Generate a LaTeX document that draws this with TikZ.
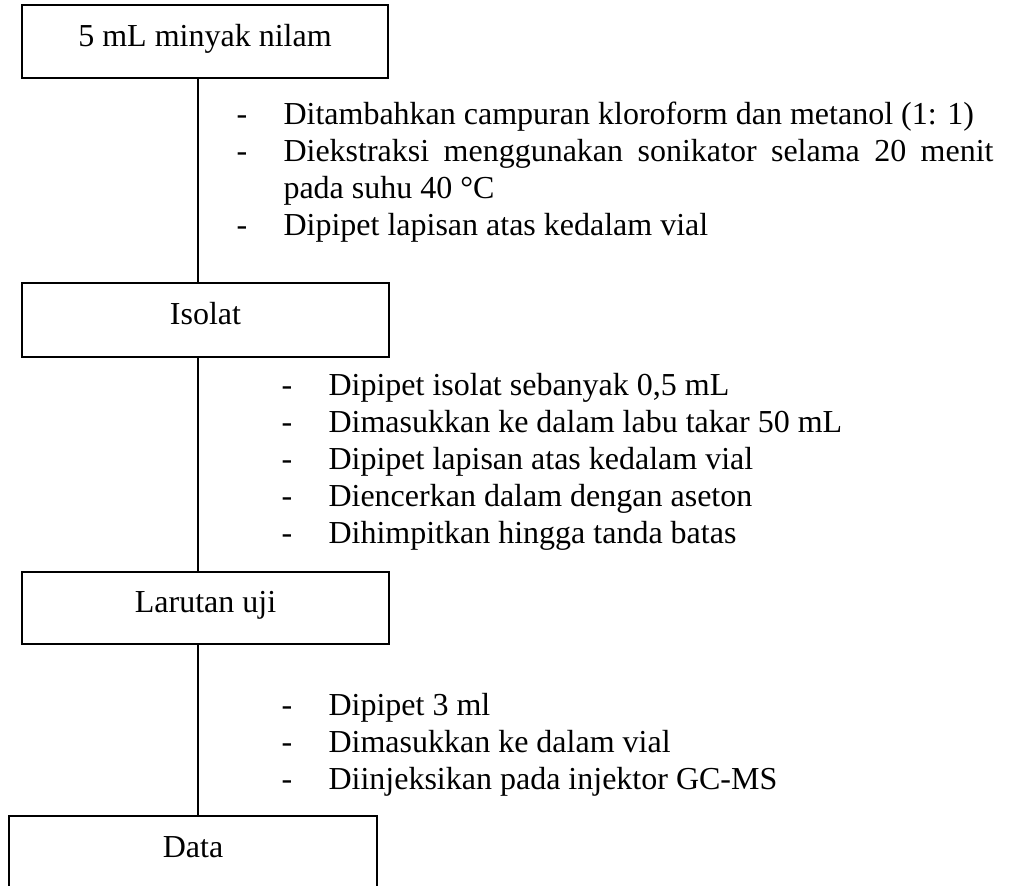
\documentclass[tikz,border=0pt]{standalone}
\usepackage{fontspec}
\setmainfont{Liberation Serif}
\usepackage{tikz}
\usetikzlibrary{positioning}
\newcommand\langkah[1]{\hangindent=17.625pt\hangafter=1\makebox[17.625pt][l]{-}#1\par}
\newcommand\daftar[1]{\parbox[t]{283.875pt}{\fontsize{12}{13.875}\selectfont\parskip=0pt\tolerance=9999 #1}}
\tikzset{
  box/.style={draw,line width=0.75pt,inner sep=0pt,font=\fontsize{12}{14}\selectfont,text height=8.25pt,text depth=4.875pt},
  garis/.style={line width=0.75pt},
  ket/.style={anchor=base west,inner sep=0pt}
}
\begin{document}
\begin{tikzpicture}[x=0.375pt,y=-0.375pt]
\useasboundingbox (0,0) rectangle (1012,885);
\clip (0,0) rectangle (1012,885);
\coordinate (tulang) at (198,0);

\node[box, minimum width=137.25pt, minimum height=27.375pt] (minyak) at (205,41.5) {5 mL minyak nilam};
\node[box, minimum width=137.625pt, minimum height=27.75pt] (isolat) at (205.5,320) {Isolat};
\node[box, minimum width=137.625pt, minimum height=27pt] (larutan) at (205.5,608) {Larutan uji};
\node[box, minimum width=138pt, minimum height=27.375pt] (data) at (193,852.5) {Data};

\draw[garis] (minyak.south -| tulang) -- (isolat.north -| tulang);
\draw[garis] (isolat.south -| tulang) -- (larutan.north -| tulang);
\draw[garis] (larutan.south -| tulang) -- (data.north -| tulang);

\node[ket] (ket1) at (236,124) {\daftar{%
  \langkah{Ditambahkan campuran kloroform dan metanol (1: 1)}
  \langkah{Diekstraksi menggunakan sonikator selama 20 menit pada suhu 40 °C}
  \langkah{Dipipet lapisan atas kedalam vial}}};
\node[ket] (ket2) at (281,395) {\daftar{%
  \langkah{Dipipet isolat sebanyak 0,5 mL}
  \langkah{Dimasukkan ke dalam labu takar 50 mL}
  \langkah{Dipipet lapisan atas kedalam vial}
  \langkah{Diencerkan dalam dengan aseton}
  \langkah{Dihimpitkan hingga tanda batas}}};
\node[ket] (ket3) at (281,715) {\daftar{%
  \langkah{Dipipet 3 ml}
  \langkah{Dimasukkan ke dalam vial}
  \langkah{Diinjeksikan pada injektor GC-MS}}};
\end{tikzpicture}
\end{document}
